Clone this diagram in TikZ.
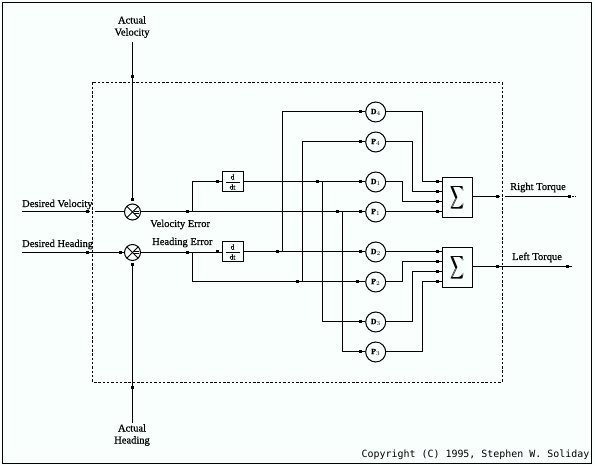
\documentclass[tikz,border=0pt]{standalone}
\usepackage{fontspec}
\usepackage{graphicx}
\setmainfont[FakeBold=0.5]{Liberation Serif}
\newfontfamily\cpfont{DejaVu Sans Mono}
\definecolor{bgc}{HTML}{F8FFFC}
\newcommand{\bigsum}{\rlap{\scalebox{.9}[1.6]{$\displaystyle\sum$}}\kern.7pt\scalebox{.9}[1.6]{$\displaystyle\sum$}}
\tikzset{
  wire/.style={line width=1pt,black},
  dotm/.style={rectangle,fill=black,inner sep=0pt,minimum size=3pt},
  gain/.style={circle,draw,line width=1pt,inner sep=0pt,minimum size=20pt,font=\bfseries\fontsize{8}{8}\selectfont},
  ddt/.style={rectangle,draw,line width=1pt,inner sep=0pt,minimum width=21pt,minimum height=20pt},
  sumbox/.style={rectangle,draw,line width=1pt,inner sep=0pt,minimum width=30pt,minimum height=40pt},
  mult/.style={circle,draw,line width=1pt,inner sep=0pt,minimum size=16pt,
    path picture={
      \draw[line width=.8pt] (path picture bounding box.north west)--(path picture bounding box.south east);
      \draw[line width=.8pt] (path picture bounding box.south west)--(path picture bounding box.north east);
      \draw[line width=.8pt] ([xshift=1pt,yshift=1pt]path picture bounding box.center)--+(5.5pt,0);
      \draw[line width=.8pt] ([xshift=1pt,yshift=-1pt]path picture bounding box.center)--+(5.5pt,0);
    }},
  lab/.style={inner sep=0pt,font=\fontsize{10.5}{12}\selectfont},
}
\begin{document}
\begin{tikzpicture}[x=1pt,y=-1pt]
\useasboundingbox (0,0) rectangle (595,465);
\fill[bgc] (0,0) rectangle (595,465);
\draw[line width=1pt] (2.5,2.5) rectangle (591,463.5);
\draw[line width=1pt,dash pattern=on 2.5pt off 1.8pt] (92.5,82.5) rectangle (502,382);
% texts
\node[lab,anchor=base west] (tdv) at (22,207) {Desired Velocity};
\node[lab,anchor=base west] (tdh) at (22,247) {Desired Heading};
\node[lab,anchor=base west] (tve) at (150,227) {Velocity Error};
\node[lab,anchor=base west] (the) at (152,245) {Heading Error};
\node[lab,anchor=base west] (trt) at (510,190) {Right Torque};
\node[lab,anchor=base west] (tlt) at (512,260) {Left Torque};
\node[lab,align=center] (tav) at (132,27) {Actual\\Velocity};
\node[lab,align=center] (tah) at (132,435) {Actual\\Heading};
\node[anchor=base east,inner sep=0pt,font=\cpfont\fontsize{9.95}{12}\selectfont] (cp) at (589.5,457.5) {Copyright (C) 1995, Stephen W. Soliday};
% blocks
\node[mult] (mv) at (132.5,212) {};
\node[mult] (mh) at (132.5,252.5) {};
\node[ddt] (d1) at (232.5,182) {};
\node[ddt] (d2) at (232.5,252) {};
\foreach \b in {d1,d2}{
  \node[inner sep=0pt,font=\fontsize{7.5}{8}\selectfont] at ([yshift=5pt]\b.center) {d};
  \node[inner sep=0pt,font=\fontsize{7.5}{8}\selectfont] at ([yshift=-5pt]\b.center) {dt};
  \draw[line width=.8pt] ([xshift=4pt]\b.west)--([xshift=-4pt]\b.east);
}
\node[gain] (D4) at (375.7,112) {D$_{4}$};
\node[gain] (P4) at (375.7,142) {P$_{4}$};
\node[gain] (D1) at (375.7,182) {D$_{1}$};
\node[gain] (P1) at (375.7,212) {P$_{1}$};
\node[gain] (D2) at (375.7,252) {D$_{2}$};
\node[gain] (P2) at (375.7,282) {P$_{2}$};
\node[gain] (D3) at (375.7,322) {D$_{3}$};
\node[gain] (P3) at (375.7,352) {P$_{3}$};
\node[sumbox] (s1) at (457.3,197.3) {\bigsum};
\node[sumbox] (s2) at (457.3,267.3) {\bigsum};
% free ends
\coordinate (avt) at (132.5,42);
\coordinate (aht) at (132.5,423);
\coordinate (dvs) at (22,212);
\coordinate (dhs) at (22,252.5);
\coordinate (dvg1) at (90,212);
\coordinate (dvg2) at (95,212);
\coordinate (rg1) at (500,197);
\coordinate (rg2) at (505,197);
\coordinate (re) at (576,197);
\coordinate (le) at (572,267);
% input wires
\draw[wire] (avt) -- (132.5,200);
\draw[wire] (aht) -- (132.5,265);
\draw[wire] (dvs) -- (dvg1);
\draw[wire] (dvg2) -- (mv.west);
\draw[wire] (dhs) -- (mh.west);
% velocity error
\draw[wire] (mv.east) -- (P1.west);
\draw[wire] (192,212) |- (d1.west);
\draw[wire] (d1.east) -- (D1.west);
\draw[wire] (322,182) |- (D3.west);
\draw[wire] (342,212) |- (P3.west);
% heading error
\draw[wire] (mh.east) -- (d2.west |- mh.east);
\draw[wire] (192,252.5) |- (P2.west);
\draw[wire] (d2.east) -- (D2.west);
\draw[wire] (282,252) |- (D4.west);
\draw[wire] (302,282) |- (P4.west);
% to summers
\draw[wire] (D4.east) -| (422,182) -- (s1.west |- 0,182);
\draw[wire] (P4.east) -| (412,192) -- (s1.west |- 0,192);
\draw[wire] (D1.east) -| (402,202) -- (s1.west |- 0,202);
\draw[wire] (P1.east) -- (s1.west |- 0,212);
\draw[wire] (D2.east) -- (s2.west |- 0,252);
\draw[wire] (P2.east) -| (402,262) -- (s2.west |- 0,262);
\draw[wire] (D3.east) -| (412,272) -- (s2.west |- 0,272);
\draw[wire] (P3.east) -| (422,282) -- (s2.west |- 0,282);
% outputs
\draw[wire] (s1.east |- 0,197) -- (rg1);
\draw[wire] (rg2) -- (569,197);
\draw[wire,dash pattern=on 1.5pt off 1.5pt] (569,197) -- (re);
\draw[wire] (s2.east |- 0,267) -- (le);
% junction dots
\foreach \p in {
  (87,212),(87,252.5),(120,252.5),(132.5,77),(132.5,200),(132.5,265),(132.5,387),
  (187,212),(187,252.5),(217,182),(217,252),(317,182),(337,212),(277,252),(297,282),
  (360.5,112),(360.5,142),(360.5,182),(360.5,212),(360.5,252),(357,282),(360.5,322),(360.5,352),
  (437,182),(437,192),(437,202),(437,212),(437,252),(437,262),(437,272),(437,282),
  (497,197),(569,197),(497,267),(567,267)}{
  \node[dotm] at \p {};
}
\end{tikzpicture}
\end{document}
